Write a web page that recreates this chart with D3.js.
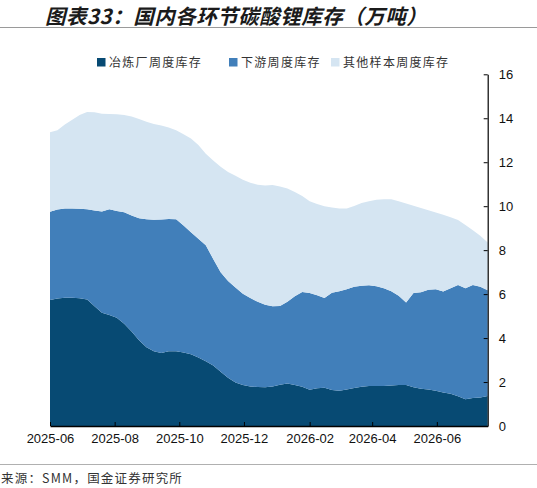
<!DOCTYPE html>
<html><head><meta charset="utf-8">
<script src="https://cdn.jsdelivr.net/npm/d3@7"></script>
<style>
html,body{margin:0;padding:0;background:#fff;}
svg{display:block;}
</style></head>
<body>
<svg id="c" width="537" height="488"></svg>
<script>
const dates = ["2025-06-01","2025-06-08","2025-06-15","2025-06-22","2025-06-29","2025-07-06","2025-07-13","2025-07-20","2025-07-27","2025-08-03","2025-08-10","2025-08-17","2025-08-24","2025-08-31","2025-09-07","2025-09-14","2025-09-21","2025-09-28","2025-10-05","2025-10-12","2025-10-19","2025-10-26","2025-11-02","2025-11-09","2025-11-16","2025-11-23","2025-11-30","2025-12-07","2025-12-14","2025-12-21","2025-12-28","2026-01-04","2026-01-11","2026-01-18","2026-01-25","2026-02-01","2026-02-08","2026-02-15","2026-02-22","2026-03-01","2026-03-08","2026-03-15","2026-03-22","2026-03-29","2026-04-05","2026-04-12","2026-04-19","2026-04-26","2026-05-03","2026-05-10","2026-05-17","2026-05-24","2026-05-31","2026-06-07","2026-06-14","2026-06-21","2026-06-28","2026-07-05","2026-07-12","2026-07-19"];
const smelter = [5.73,5.80,5.84,5.84,5.81,5.76,5.45,5.15,5.05,4.92,4.65,4.30,3.90,3.58,3.40,3.32,3.40,3.40,3.34,3.26,3.12,2.95,2.75,2.47,2.20,1.98,1.86,1.80,1.77,1.76,1.80,1.88,1.93,1.86,1.78,1.65,1.72,1.74,1.64,1.60,1.66,1.73,1.79,1.82,1.82,1.82,1.84,1.86,1.86,1.76,1.69,1.66,1.60,1.52,1.47,1.35,1.22,1.27,1.30,1.36];
const downstream = [4.02,4.05,4.06,4.06,4.07,4.10,4.35,4.61,4.81,4.86,5.07,5.28,5.55,5.83,5.98,6.08,6.02,6.01,5.78,5.56,5.40,5.27,4.85,4.53,4.40,4.32,4.16,4.02,3.88,3.76,3.65,3.58,3.72,4.04,4.32,4.40,4.23,4.08,4.42,4.53,4.56,4.60,4.59,4.58,4.54,4.45,4.29,4.06,3.76,4.29,4.39,4.54,4.62,4.60,4.80,5.06,5.05,5.14,5.03,4.82];
const others = [3.61,3.60,3.82,4.03,4.27,4.42,4.47,4.45,4.33,4.40,4.43,4.50,4.52,4.43,4.36,4.27,4.16,4.05,4.15,4.26,4.26,4.16,4.48,4.79,4.95,5.08,5.18,5.25,5.32,5.42,5.51,5.44,5.15,4.74,4.36,4.18,4.15,4.18,3.88,3.77,3.68,3.68,3.76,3.83,3.93,4.05,4.18,4.30,4.50,3.97,3.84,3.62,3.49,3.49,3.23,2.96,2.87,2.49,2.32,2.17];
const seriesNames = ["冶炼厂周度库存","下游周度库存","其他样本周度库存"];
const seriesColors = ["#074a73","#417fba","#d5e5f2"];
const yTicks = [0,2,4,6,8,10,12,14,16];
const xTickLabels = ["2025-06","2025-08","2025-10","2025-12","2026-02","2026-04","2026-06"];
const titleText = "图表33：国内各环节碳酸锂库存（万吨）";
const sourceText = "来源：SMM，国金证券研究所";

const svg = d3.select("#c");
const parse = d3.timeParse("%Y-%m-%d");
const parseM = d3.timeParse("%Y-%m");
const rows = dates.map((d,i)=>({date:parse(d), s0:smelter[i], s1:downstream[i], s2:others[i]}));

const L = 50, R = 487.7, T = 74.3, B = 426;
const x = d3.scaleTime().domain(d3.extent(rows, d=>d.date)).range([L, R]);
const y = d3.scaleLinear().domain([0,16]).range([B, T]);

// title
svg.append("text").attr("x",45).attr("y",24)
  .attr("font-family","'Noto Sans CJK SC', sans-serif").attr("font-weight","bold")
  .attr("font-style","italic").attr("font-size",20.5).attr("letter-spacing",0.5)
  .attr("fill","#1b1b1b")
  .text(titleText);
svg.append("line").attr("x1",0).attr("x2",537).attr("y1",27.5).attr("y2",27.5)
  .attr("stroke","#9a9a9a").attr("stroke-width",1);

// stacked areas
const stack = d3.stack().keys(["s0","s1","s2"]);
const layers = stack(rows);
const area = d3.area().x(d=>x(d.data.date)).y0(d=>y(d[0])).y1(d=>y(d[1]));
svg.append("g").selectAll("path").data(layers).join("path")
  .attr("d", area).attr("fill",(d,i)=>seriesColors[i]);

// x axis
const xAxis = d3.axisBottom(x).tickValues(xTickLabels.map(parseM))
  .tickFormat(d3.timeFormat("%Y-%m")).tickSizeInner(-4).tickSizeOuter(0).tickPadding(8);
const gx = svg.append("g").attr("transform",`translate(0,${B})`).call(xAxis);
gx.select(".domain").attr("stroke","#000").attr("stroke-width",1.5);
gx.selectAll(".tick line").attr("stroke","#000");
gx.selectAll("text").attr("font-family","'Liberation Sans', Arial, sans-serif")
  .attr("font-size",13).attr("fill","#111");

// right y axis
const yAxis = d3.axisRight(y).tickValues(yTicks).tickSizeInner(-4).tickSizeOuter(0).tickPadding(11);
const gy = svg.append("g").attr("transform",`translate(${R},0)`).call(yAxis);
gy.select(".domain").attr("stroke","#000").attr("stroke-width",1.2);
gy.selectAll(".tick line").attr("stroke","#000");
gy.selectAll("text").attr("font-family","'Liberation Sans', Arial, sans-serif")
  .attr("font-size",13).attr("fill","#111");

// legend
const legX = [97, 229, 331];
const leg = svg.append("g");
seriesNames.forEach((n,i)=>{
  leg.append("rect").attr("x",legX[i]).attr("y",58).attr("width",8.5).attr("height",8.5)
    .attr("fill",seriesColors[i]);
  leg.append("text").attr("x",legX[i]+12).attr("y",67)
    .attr("font-family","'Noto Sans CJK SC', sans-serif").attr("font-size",12)
    .attr("letter-spacing",1.3).attr("fill","#333").text(n);
});

// source
svg.append("line").attr("x1",0).attr("x2",537).attr("y1",464.5).attr("y2",464.5)
  .attr("stroke","#b0b0b0").attr("stroke-width",1);
svg.append("text").attr("x",1).attr("y",483)
  .attr("font-family","'Noto Sans CJK SC', sans-serif").attr("font-size",12.5)
  .attr("letter-spacing",1.2).attr("fill","#333").text(sourceText);
</script>
</body></html>
